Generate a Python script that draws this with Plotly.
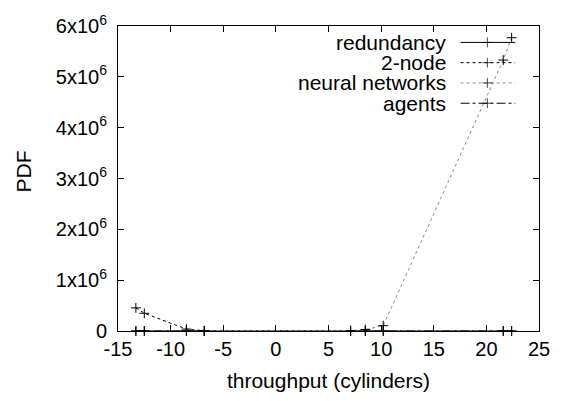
import plotly.graph_objects as go

# data
x_zero = [-13.3, -12.5, -8.5, -6.8, 7.1, 8.5, 10.2, 21.6, 22.4]
redundancy_y = [0, 0, 0, 0, 0, 0, 0, 0, 0]
agents_y = [0, 0, 0, 0, 0, 0, 0, 0, 0]
node2_x = [-13.3, -12.5, -8.5, -6.8]
node2_y = [455000, 348000, 38000, 5000]
nn_x = [-6.8, 7.1, 8.5, 10.2, 21.6, 22.4]
nn_y = [5000, 8000, 30000, 105000, 5330000, 5770000]
series_names = ["redundancy", "2-node", "neural networks", "agents"]
x_ticks = [-15, -10, -5, 0, 5, 10, 15, 20, 25]
x_tick_text = ["-15", "-10", "-5", "0", "5", "10", "15", "20", "25"]
y_ticks = [0, 1e6, 2e6, 3e6, 4e6, 5e6, 6e6]
y_tick_text = ["0"] + ["%dx10<sup>6</sup>" % i for i in range(1, 7)]

FONT = "Liberation Sans, Arial, sans-serif"
styles = {
    "redundancy": dict(color="black", dash="solid"),
    "2-node": dict(color="black", dash="dot"),
    "neural networks": dict(color="#8a8a8a", dash="dot"),
    "agents": dict(color="black", dash="dashdot"),
}
mk = dict(symbol="cross-thin", size=7, line=dict(width=1, color="black"))

# plot area in pixels
L, R, T, B = 118, 542, 16, 332
W, H = R - L, B - T

fig = go.Figure()
fig.add_trace(go.Scatter(x=x_zero, y=redundancy_y, mode="lines+markers",
                         line=dict(width=1, **styles["redundancy"]), marker=mk, cliponaxis=False))
fig.add_trace(go.Scatter(x=x_zero, y=agents_y, mode="lines+markers",
                         line=dict(width=1, **styles["agents"]), marker=mk, cliponaxis=False))
fig.add_trace(go.Scatter(x=node2_x, y=node2_y, mode="lines+markers",
                         line=dict(width=1, **styles["2-node"]), marker=mk, cliponaxis=False))
fig.add_trace(go.Scatter(x=nn_x, y=nn_y, mode="lines+markers",
                         line=dict(width=1, **styles["neural networks"]), marker=mk, cliponaxis=False))

# legend samples (overlay axis in plot-fraction coordinates)
rows_px = [33, 54, 75, 96]
for name, ypx in zip(series_names, rows_px):
    yr = (B - ypx) / H
    fig.add_trace(go.Scatter(x=[(463 - L) / W, (490 - L) / W, (518 - L) / W], y=[yr, yr, yr],
                             xaxis="x2", yaxis="y2",
                             mode="lines+markers", line=dict(width=1, **styles[name]),
                             marker=dict(symbol="cross-thin", size=[0, 7, 0],
                                         line=dict(width=1, color="black")),
                             hoverinfo="skip"))
    fig.add_annotation(x=(450 - L) / W, y=yr, xref="x2", yref="y2", text=name, showarrow=False,
                       xanchor="right", yanchor="middle", font=dict(size=21, family=FONT, color="black"))

fig.add_annotation(x=(23 - L) / W, y=(B - 167) / H, xref="paper", yref="paper", text="PDF",
                   textangle=-90, showarrow=False, font=dict(size=21, family=FONT, color="black"),
                   xanchor="center", yanchor="middle")

axis_common = dict(showgrid=False, zeroline=False, showline=True, linecolor="black", linewidth=1,
                   mirror="allticks", ticks="inside", ticklen=6, tickcolor="black",
                   tickfont=dict(size=20, family=FONT, color="black"))
fig.update_layout(
    width=562, height=401, margin=dict(l=L, r=562 - R, t=T, b=401 - B),
    paper_bgcolor="white", plot_bgcolor="white", showlegend=False,
    xaxis=dict(range=[-15, 25], tickvals=x_ticks, ticktext=x_tick_text,
               title=dict(text="throughput (cylinders)", font=dict(size=21, family=FONT, color="black"), standoff=14),
               **axis_common),
    yaxis=dict(range=[0, 6e6], tickvals=y_ticks, ticktext=y_tick_text, ticklabelstandoff=6,
               **axis_common),
    xaxis2=dict(range=[0, 1], overlaying="x", visible=False, showgrid=False),
    yaxis2=dict(range=[0, 1], overlaying="y", visible=False, showgrid=False),
)
fig.write_html("out.html")
